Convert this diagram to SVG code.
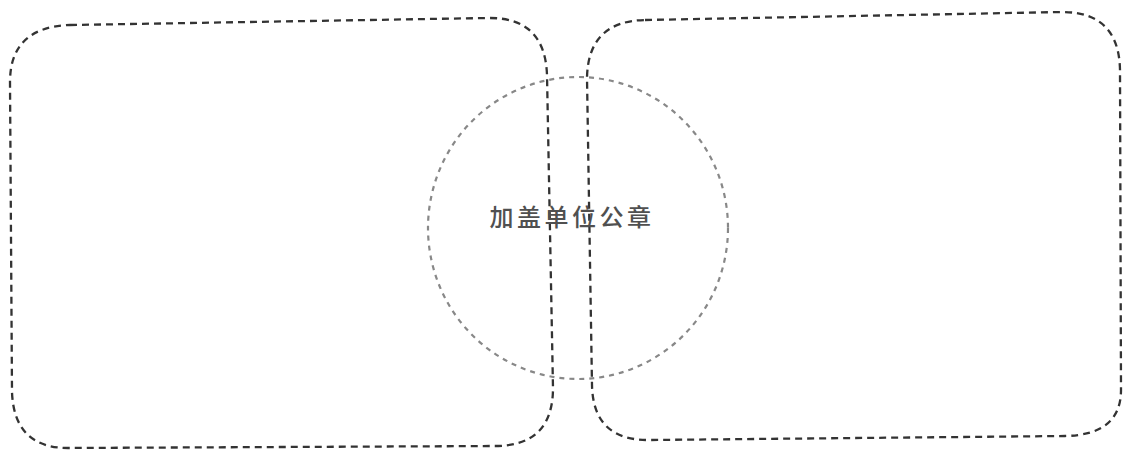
<svg xmlns="http://www.w3.org/2000/svg" width="1125" height="451" viewBox="0 0 1125 451">
<style>
.box{fill:none;stroke:#333;stroke-width:2.3;stroke-dasharray:7 5}
.seal{fill:none;stroke:#888;stroke-width:2.2;stroke-dasharray:5 5}
.lbl{font-family:"Noto Sans CJK SC","Noto Sans CJK TC",sans-serif;font-size:24px;font-weight:500;fill:#505050;letter-spacing:3.5px}
</style>
<rect width="1125" height="451" fill="#fff"/>
<g id="left-box">
<path class="box" d="M 70 25 L 488 18 Q 545 17 547 75 L 553 388 Q 553 446 495 446 L 68 448 Q 14 448 12 392 L 10 82 Q 10 27 70 25 Z"/>
</g>
<g id="right-box">
<path class="box" d="M 645 20 L 1062 12 Q 1119 12 1120 70 L 1121 390 Q 1121 435 1065 436 L 650 440 Q 593 441 592 385 L 587 78 Q 588 21 645 20 Z"/>
</g>
<g id="seal">
<ellipse class="seal" cx="578" cy="228" rx="150" ry="151"/>
<text class="lbl" x="572" y="226" text-anchor="middle">加盖单位公章</text>
</g>
<g id="connectors"></g>
</svg>
